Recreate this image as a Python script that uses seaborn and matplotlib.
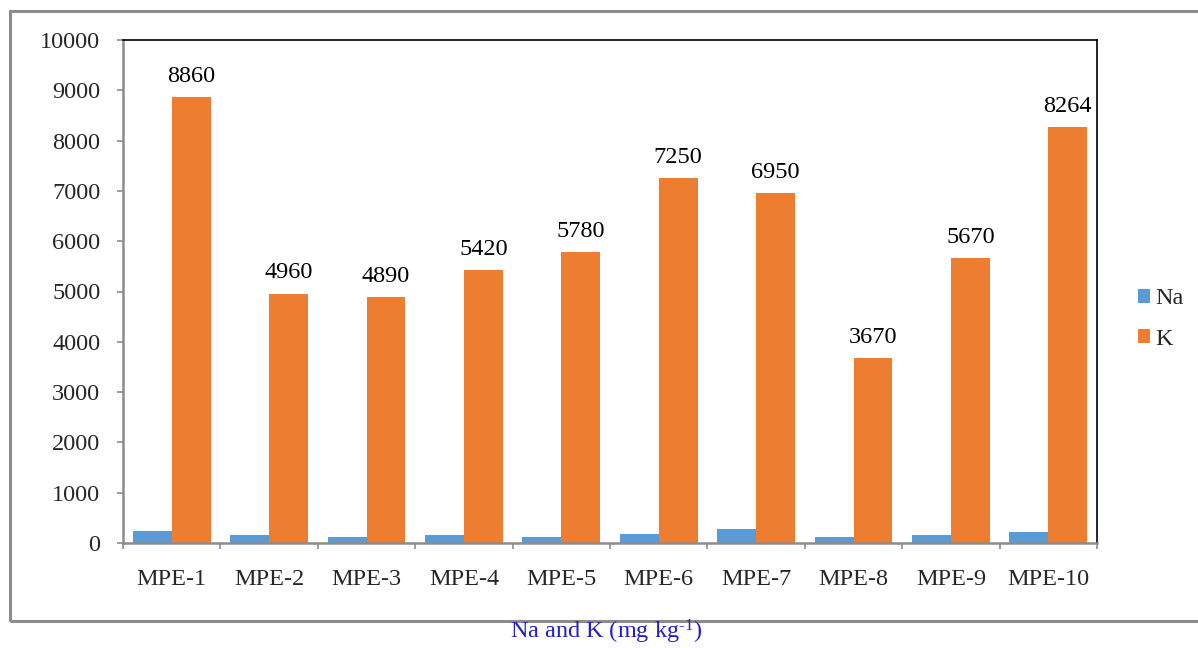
import matplotlib
matplotlib.use("Agg")
import matplotlib.pyplot as plt
from matplotlib.patches import Rectangle
from matplotlib.ticker import FixedLocator
import seaborn as sns
import pandas as pd
import numpy as np

# Sodium and potassium content per sample (mg/kg)
samples = ["MPE-1", "MPE-2", "MPE-3", "MPE-4", "MPE-5",
           "MPE-6", "MPE-7", "MPE-8", "MPE-9", "MPE-10"]
na_values = [230, 160, 120, 150, 120, 180, 270, 110, 155, 220]
k_values = [8860, 4960, 4890, 5420, 5780, 7250, 6950, 3670, 5670, 8264]
series_names = ["Na", "K"]
series_colors = ["#5B9BD5", "#ED7D31"]
y_ticks = list(range(0, 10001, 1000))
caption = r"Na and K (mg kg$^{\text{-1}}$)"

df = pd.DataFrame({
    "sample": samples * 2,
    "element": [series_names[0]] * len(samples) + [series_names[1]] * len(samples),
    "value": na_values + k_values,
})

sns.set_style("white")
plt.rcParams["font.family"] = ["Liberation Serif", "DejaVu Serif"]
plt.rcParams["mathtext.fontset"] = "custom"
plt.rcParams["mathtext.rm"] = "Liberation Serif"
plt.rcParams["mathtext.it"] = "Liberation Serif:italic"

FS = 17.5
W, H = 1198, 648
fig = plt.figure(figsize=(W / 100, H / 100), dpi=100)
ax = fig.add_axes([123 / W, 1 - 543 / H, (1097 - 123) / W, (543 - 40) / H])

sns.barplot(data=df, x="sample", y="value", hue="element", order=samples,
            hue_order=series_names, palette=series_colors, saturation=1,
            width=0.8, linewidth=0, ax=ax)

# Value labels above the K bars
for i, v in enumerate(k_values):
    ax.annotate(f"{v}", xy=(i + 0.2, v), xytext=(0, 11), textcoords="offset points",
                ha="center", va="baseline", fontsize=FS, color="black")

ax.set_ylim(0, 10000)
ax.set_xlim(-0.5, len(samples) - 0.5)
ax.set_yticks(y_ticks)
ax.set_yticklabels([str(t) for t in y_ticks], fontsize=FS)
ax.set_xlabel("")
ax.set_ylabel("")
ax.tick_params(axis="y", which="major", length=6 / 1.389, width=1.2, color="#8c8c8c",
               pad=12, left=True, direction="out")
ax.tick_params(axis="x", which="major", length=0, pad=19, labelsize=FS)
ax.xaxis.set_minor_locator(FixedLocator(np.arange(-0.5, len(samples), 1.0)))
ax.tick_params(axis="x", which="minor", length=6 / 1.389, width=1.2, color="#8c8c8c",
               bottom=True, direction="out")

for side in ("left", "bottom"):
    ax.spines[side].set_color("#8c8c8c")
    ax.spines[side].set_linewidth(1.8)
for side in ("top", "right"):
    ax.spines[side].set_color("black")
    ax.spines[side].set_linewidth(1.2)
    ax.spines[side].set_visible(True)

sns.move_legend(ax, loc="center left", bbox_to_anchor=(1138 / W, 1 - 319 / H),
                bbox_transform=fig.transFigure, frameon=False, title=None,
                fontsize=FS, handlelength=0.5, handleheight=0.5,
                handletextpad=0.2, labelspacing=0.8, borderpad=0, borderaxespad=0)

# Outer chart frame (open on the right)
frame = Rectangle((10 / W, 1 - 621 / H), 1.2, (621 - 11) / H, transform=fig.transFigure,
                  fill=False, edgecolor="#8c8c8c", linewidth=2.2, clip_on=False)
fig.add_artist(frame)

fig.text(606 / W, 1 - 646 / H, caption, ha="center", va="bottom",
         fontsize=FS, color="#2020c8")

fig.savefig("out.png", dpi=100)
